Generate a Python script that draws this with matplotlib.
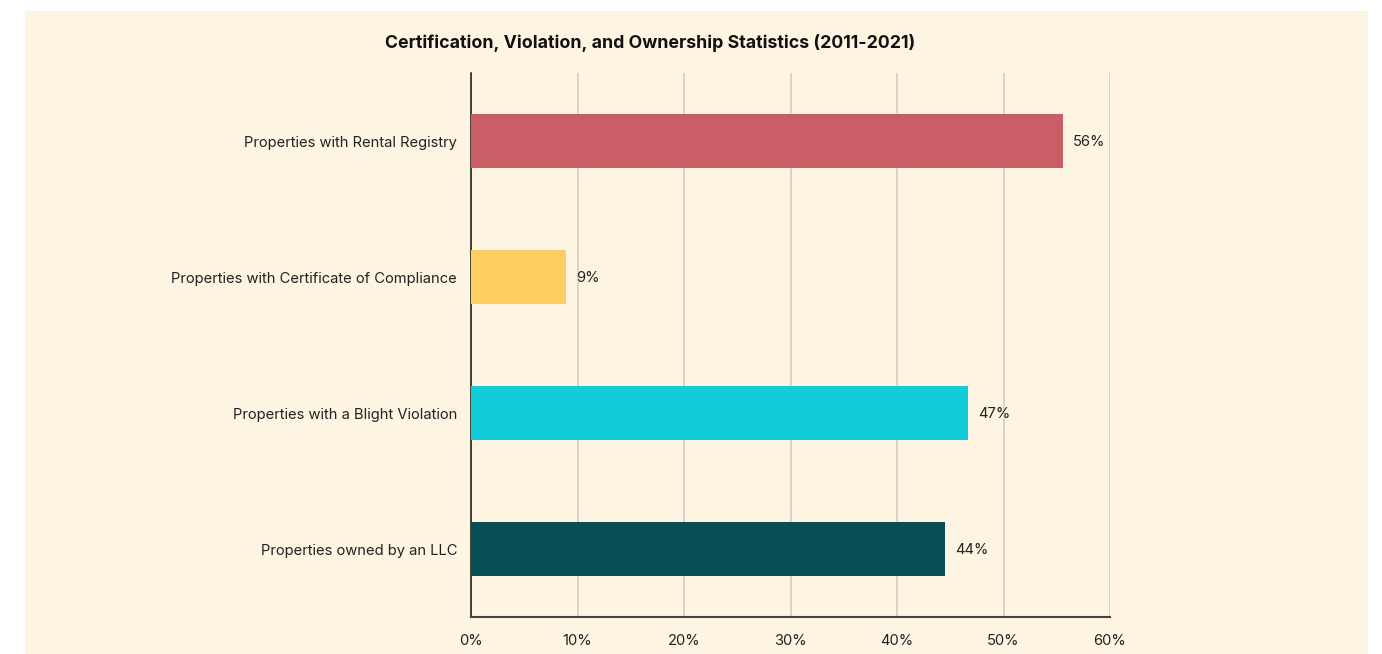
import matplotlib
matplotlib.use("Agg")
import matplotlib.pyplot as plt
from matplotlib.patches import Rectangle

categories = [
    "Properties with Rental Registry",
    "Properties with Certificate of Compliance",
    "Properties with a Blight Violation",
    "Properties owned by an LLC",
]
values = [55.6, 8.9, 46.7, 44.5]
labels = ["56%", "9%", "47%", "44%"]
colors = ["#CB5D67", "#FFCE63", "#12CCDA", "#074F55"]
xticks = [0, 10, 20, 30, 40, 50, 60]
xtick_labels = ["0%", "10%", "20%", "30%", "40%", "50%", "60%"]
title = "Certification, Violation, and Ownership Statistics (2011-2021)"

plt.rcParams['font.family'] = ['Inter', 'DejaVu Sans']

W, H = 1382, 654
fig = plt.figure(figsize=(W / 100, H / 100), dpi=100, facecolor="white")
bg = "#FEF4E2"
fig.patches.append(Rectangle((25 / W, 0), (1368 - 25) / W, (654 - 11) / H,
                             transform=fig.transFigure, facecolor=bg,
                             edgecolor="none", zorder=-10))

ax = fig.add_axes([471 / W, (654 - 617) / H, (1110 - 471) / W, (617 - 73) / H])
ax.set_zorder(5)
ax.patch.set_visible(False)

ypos = list(range(len(categories)))
ax.barh(ypos, values, height=0.4, color=colors, zorder=3)
for y, v, lab in zip(ypos, values, labels):
    ax.text(v + 0.95, y + 0.01, lab, va="center", ha="left", fontsize=10.6, color="#222222")

ax.set_ylim(3.5, -0.5)
ax.set_xlim(0, 60)
ax.set_yticks(ypos)
ax.set_yticklabels(categories, fontsize=10.6, color="#222222")
ax.set_xticks(xticks)
ax.set_xticklabels(xtick_labels, fontsize=10.6, color="#222222")
ax.tick_params(axis="both", length=0)
ax.tick_params(axis="y", pad=10)
ax.tick_params(axis="x", pad=12)
ax.grid(axis="x", color="#CFCBC4", linewidth=1.1, zorder=0)
ax.set_axisbelow(True)
for s in ["top", "right"]:
    ax.spines[s].set_visible(False)
ax.spines["left"].set_color("#111111")
ax.spines["left"].set_linewidth(1.1)
ax.spines["bottom"].set_color("#444444")
ax.spines["bottom"].set_linewidth(1.5)

fig.text(650 / W, 1 - 43 / H, title, ha="center", va="center",
         fontsize=12.75, fontweight="bold", color="#111111")

fig.savefig("out.png", dpi=100, facecolor="white")
